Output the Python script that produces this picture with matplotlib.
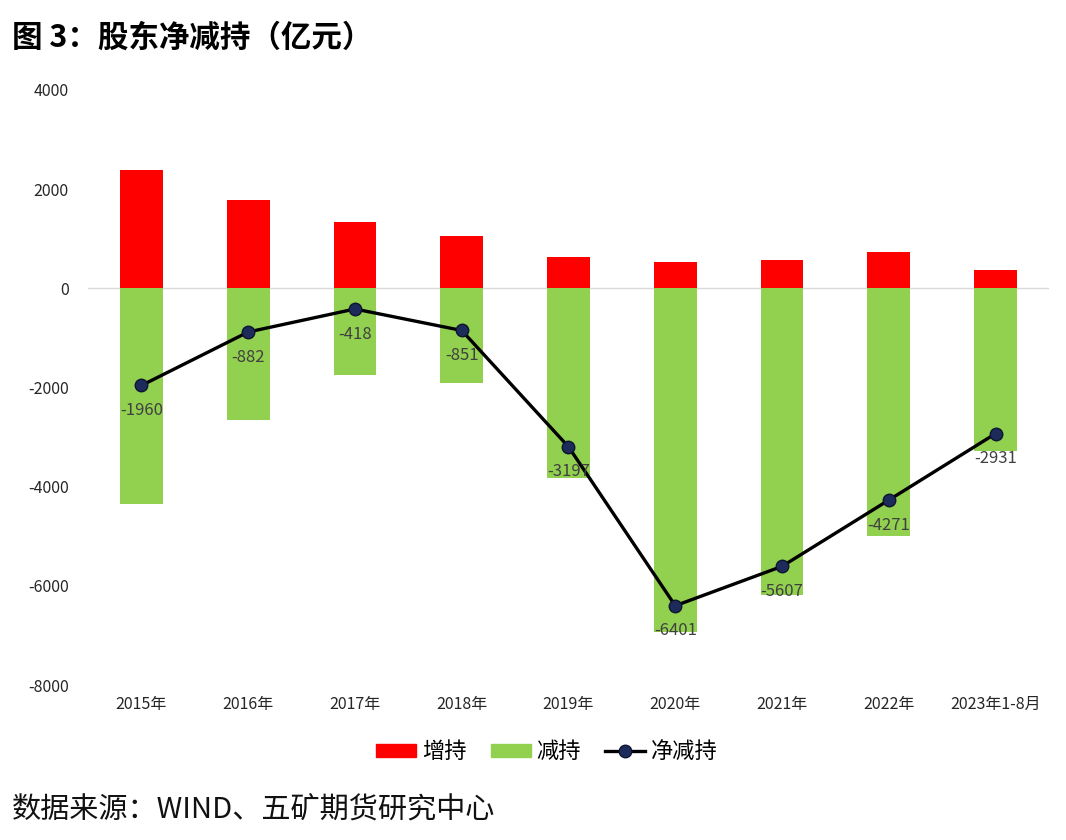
import matplotlib.pyplot as plt
from matplotlib.lines import Line2D
from matplotlib.patches import Patch

plt.rcParams['font.family'] = ['Noto Sans CJK SC', 'DejaVu Sans']
plt.rcParams['axes.unicode_minus'] = False

years = ['2015年', '2016年', '2017年', '2018年', '2019年', '2020年', '2021年', '2022年', '2023年1-8月']
increase = [2380, 1780, 1330, 1050, 630, 530, 570, 730, 360]
decrease = [-4340, -2662, -1748, -1901, -3827, -6931, -6177, -5001, -3291]
net = [-1960, -882, -418, -851, -3197, -6401, -5607, -4271, -2931]

fig = plt.figure(figsize=(10.66, 8.4), dpi=100)
ax = fig.add_axes([0.0826, 0.1845, 0.9014, 0.7085])

x = list(range(len(years)))
ax.bar(x, increase, width=0.4, color='#ff0000', zorder=2)
ax.bar(x, decrease, width=0.4, color='#92d050', zorder=2)
ax.plot(x, net, color='black', linewidth=2.4, marker='o', markersize=9,
        markerfacecolor='#1c2b5a', markeredgecolor='#0d1530', zorder=4)

for xi, v in zip(x, net):
    ax.annotate(str(v), (xi, v), xytext=(0, -12), textcoords='offset points',
                ha='center', va='top', fontsize=12, color='#404040', zorder=5)

ax.axhline(0, color='#d9d9d9', linewidth=1, zorder=1)
ax.set_xlim(-0.5, len(years) - 0.5)
ax.set_ylim(-8000, 4000)
ax.set_yticks(range(-8000, 4001, 2000))
ax.set_xticks(x)
ax.set_xticklabels(years)
ax.tick_params(axis='both', length=0, labelsize=11.5, colors='#262626')
ax.tick_params(axis='y', pad=14)
ax.tick_params(axis='x', pad=8)
for s in ax.spines.values():
    s.set_visible(False)

handles = [Patch(color='#ff0000'), Patch(color='#92d050'),
           Line2D([], [], color='black', linewidth=2.4, marker='o', markersize=9,
                  markerfacecolor='#1c2b5a', markeredgecolor='#0d1530')]
fig.legend(handles, ['增持', '减持', '净减持'], loc='center', bbox_to_anchor=(0.513, 0.105),
           ncol=3, frameon=False, fontsize=16, handlelength=1.8, handleheight=0.55,
           columnspacing=1.1, handletextpad=0.25)

fig.text(0.011, 0.955, '图 3：股东净减持（亿元）', fontsize=22, fontweight='bold',
         ha='left', va='center', color='black')
fig.text(0.011, 0.036, '数据来源：WIND、五矿期货研究中心', fontsize=21,
         ha='left', va='center', color='#111111')

fig.savefig('out.png', dpi=100)
